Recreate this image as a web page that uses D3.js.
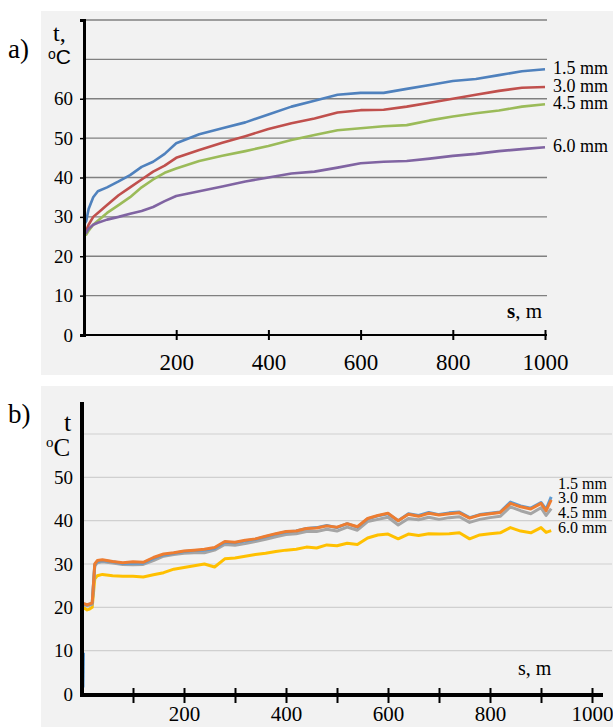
<!DOCTYPE html>
<html>
<head>
<meta charset="utf-8">
<script src="https://cdn.jsdelivr.net/npm/d3@7"></script>
<style>
  body { margin: 0; background: #fff; }
  svg { display: block; }
  .serif { font-family: "Liberation Serif", "Times New Roman", serif; fill: #000; }
</style>
</head>
<body>
<svg id="chart"></svg>
<script>
// panel a) – distance s (m) and temperature t (°C)
const sA = [0, 5, 10, 20, 30, 50, 75, 100, 125, 150, 175, 200, 250, 300, 350, 400, 450, 500, 550, 600, 650, 700, 750, 800, 850, 900, 950, 1000];
const a15 = [28, 29, 32, 35, 36.5, 37.5, 39, 40.6, 42.7, 44, 46, 48.7, 51, 52.5, 54, 56, 58, 59.5, 61, 61.5, 61.5, 62.5, 63.5, 64.5, 65, 66, 67, 67.5];
const a30 = [25.5, 26.5, 28, 30, 31, 33, 35.5, 37.5, 39.5, 41.5, 43, 45, 47, 48.8, 50.5, 52.3, 53.8, 55, 56.5, 57.1, 57.2, 58, 59, 60, 61, 62, 62.8, 63];
const a45 = [25.5, 25.5, 26.5, 28, 29, 31, 33, 35, 37.5, 39.5, 41.2, 42.3, 44.2, 45.5, 46.7, 48, 49.5, 50.8, 52, 52.5, 53, 53.3, 54.5, 55.5, 56.3, 57, 58, 58.6];
const a60 = [25.5, 26, 27, 28, 28.5, 29.3, 30, 30.8, 31.5, 32.5, 34, 35.3, 36.5, 37.7, 39, 40, 41, 41.5, 42.5, 43.6, 44, 44.2, 44.8, 45.5, 46, 46.7, 47.2, 47.7];

// panel b)
const sB = [0, 5, 10, 15, 20, 25, 30, 40, 60, 80, 100, 120, 140, 160, 180, 200, 220, 240, 260, 280, 300, 320, 340, 360, 380, 400, 420, 440, 460, 480, 500, 520, 540, 560, 580, 600, 620, 640, 660, 680, 700, 720, 740, 760, 780, 800, 820, 840, 860, 880, 900, 910, 920];
const b15 = [20.7, 20.7, 20.6, 20.7, 21, 29.8, 30.6, 30.8, 30.5, 30.1, 30.2, 30.2, 31.3, 32.1, 32.5, 32.9, 33.1, 33.2, 33.6, 35, 34.9, 35.3, 35.7, 36.3, 36.9, 37.4, 37.6, 38.2, 38.4, 38.9, 38.4, 39.3, 38.5, 40.4, 41.1, 41.6, 40, 41.6, 41.2, 41.9, 41.4, 41.8, 42, 40.7, 41.4, 41.7, 42, 44.3, 43.4, 42.9, 44.2, 42.6, 45.5];
const b30 = [20.8, 20.8, 20.6, 20.8, 21, 30, 30.8, 31, 30.6, 30.3, 30.5, 30.4, 31.5, 32.3, 32.6, 33, 33.2, 33.4, 33.8, 35.2, 35, 35.5, 35.8, 36.4, 37, 37.5, 37.6, 38.2, 38.3, 38.8, 38.5, 39.3, 38.6, 40.5, 41.2, 41.7, 40, 41.5, 41, 41.7, 41.3, 41.6, 41.8, 40.6, 41.3, 41.6, 41.9, 44, 43.2, 42.7, 44, 42.3, 44.8];
const b45 = [20.5, 20.5, 20.4, 20.5, 20.7, 29.5, 30.3, 30.5, 30.2, 29.9, 29.8, 29.9, 30.8, 31.8, 32.2, 32.5, 32.6, 32.6, 33.2, 34.5, 34.3, 34.7, 35.2, 35.7, 36.3, 36.8, 37, 37.5, 37.5, 38, 37.6, 38.5, 37.8, 39.8, 40.3, 40.8, 39, 40.5, 40.2, 40.8, 40.3, 40.7, 40.9, 39.6, 40.3, 40.7, 41, 43.2, 42.3, 41.6, 43, 41.2, 42.8];
const b60 = [19.5, 19.8, 19.4, 19.6, 20, 26.5, 27.3, 27.6, 27.3, 27.2, 27.2, 27, 27.5, 28, 28.8, 29.2, 29.6, 30, 29.3, 31.2, 31.4, 31.8, 32.2, 32.5, 32.9, 33.2, 33.4, 33.9, 33.7, 34.4, 34.2, 34.8, 34.5, 36, 36.7, 36.9, 35.8, 36.9, 36.6, 37, 36.9, 37, 37.2, 35.8, 36.7, 37, 37.2, 38.4, 37.6, 37.2, 38.4, 37.3, 37.7];
// short blue stub at the very start of b)
const b15StartS = [2, 3];
const b15StartT = [1.5, 9.5];

const labels = ["1.5 mm", "3.0 mm", "4.5 mm", "6.0 mm"];
const yTicksA = [0, 10, 20, 30, 40, 50, 60];
const gridA = [10, 20, 30, 40, 50, 60, 70, 80];
const xTicksA = [200, 400, 600, 800, 1000];
const yTicksB = [0, 10, 20, 30, 40, 50];
const gridB = [10, 20, 30, 40, 50, 60];
const xTicksB = [100, 200, 300, 400, 500, 600, 700, 800, 900, 1000];
const xLabelsB = [200, 400, 600, 800, 1000];

const colorsA = ["#4f81bd", "#c0504d", "#9bbb59", "#8064a2"];
const colorsB = ["#5b9bd5", "#ed7d31", "#a5a5a5", "#ffc000"];

const svg = d3.select("#chart").attr("width", 613).attr("height", 727);

// ---------- panel a ----------
svg.append("rect").attr("x", 41).attr("y", 11).attr("width", 572).attr("height", 364).attr("fill", "#f2f2f2");

const xA = d3.scaleLinear().domain([0, 1000]).range([84, 545]);
const yA = d3.scaleLinear().domain([0, 80]).range([335, 20]);

const gA = svg.append("g");

gA.selectAll(".gridA")
  .data(gridA)
  .enter()
  .append("line")
  .attr("x1", xA(0))
  .attr("x2", xA(1000) + 2)
  .attr("y1", d => yA(d))
  .attr("y2", d => yA(d))
  .attr("stroke", "#808080")
  .attr("stroke-width", 1.3);

const lineA = d3.line().x(d => xA(d[0])).y(d => yA(d[1]));
const seriesA = [a15, a30, a45, a60];

seriesA.forEach((vals, i) => {
  gA.append("path")
    .datum(sA.map((s, j) => [s, vals[j]]))
    .attr("fill", "none")
    .attr("stroke", colorsA[i])
    .attr("stroke-width", 2.6)
    .attr("stroke-linejoin", "round")
    .attr("d", lineA);

  gA.append("text")
    .attr("class", "serif")
    .attr("x", xA(1000) + 8)
    .attr("y", yA(vals[vals.length - 1]) - 1)
    .attr("dominant-baseline", "central")
    .style("font-size", "18px")
    .text(labels[i]);
});

// axes a
const xAxisA = gA.append("g")
  .attr("transform", `translate(0, ${yA(0)})`)
  .call(d3.axisBottom(xA).tickValues(xTicksA).tickFormat(d3.format("d")).tickSizeOuter(0).tickPadding(12));
xAxisA.select(".domain").attr("stroke", "#000").attr("stroke-width", 2).attr("d", `M${xA(0)},0H${xA(1000) + 2}`);
xAxisA.selectAll(".tick line").attr("y1", -5).attr("y2", 5).attr("stroke", "#000").attr("stroke-width", 2);
xAxisA.selectAll(".tick text").attr("class", "serif").style("font-size", "23px").attr("dy", "0.75em");

const yAxisA = gA.append("g")
  .attr("transform", `translate(${xA(0)}, 0)`)
  .call(d3.axisLeft(yA).tickValues(yTicksA).tickSize(4).tickSizeOuter(4).tickPadding(7));
yAxisA.select(".domain").attr("stroke", "#000").attr("stroke-width", 3);
yAxisA.selectAll(".tick line").attr("stroke", "#000").attr("stroke-width", 1.5);
yAxisA.selectAll(".tick text").attr("class", "serif").style("font-size", "19px");

svg.append("text").attr("class", "serif").attr("x", 8).attr("y", 58).style("font-size", "27px").text("a)");
svg.append("text").attr("class", "serif").attr("x", 53).attr("y", 41).style("font-size", "24px").text("t,");
const degA = svg.append("text").attr("x", 48).attr("y", 64)
  .style("font-family", "'Liberation Sans', Arial, sans-serif").style("font-size", "21px");
degA.append("tspan").style("font-size", "14px").attr("dy", -5).text("o");
degA.append("tspan").attr("dy", 5).text("C");
const smA = svg.append("text").attr("class", "serif").attr("x", 507).attr("y", 318).style("font-size", "21px");
smA.append("tspan").style("font-weight", "bold").text("s");
smA.append("tspan").text(", m");

// ---------- panel b ----------
svg.append("rect").attr("x", 41).attr("y", 386).attr("width", 572).attr("height", 341).attr("fill", "#f2f2f2");

const xB = d3.scaleLinear().domain([0, 1000]).range([82, 592]);
const yB = d3.scaleLinear().domain([0, 60]).range([694, 434]);

const gB = svg.append("g");

gB.selectAll(".gridB")
  .data(gridB)
  .enter()
  .append("line")
  .attr("x1", xB(0))
  .attr("x2", 612)
  .attr("y1", d => yB(d))
  .attr("y2", d => yB(d))
  .attr("stroke", "#d0d0d0")
  .attr("stroke-width", 1.2);

const lineB = d3.line().x(d => xB(d[0])).y(d => yB(d[1]));
const seriesB = [b15, b30, b45, b60];
// draw order: yellow, gray, blue, orange on top
[3, 2, 0, 1].forEach(i => {
  gB.append("path")
    .datum(sB.map((s, j) => [s, seriesB[i][j]]))
    .attr("fill", "none")
    .attr("stroke", colorsB[i])
    .attr("stroke-width", 3)
    .attr("stroke-linejoin", "round")
    .attr("d", lineB);
});
gB.append("path")
  .datum(b15StartS.map((s, j) => [s, b15StartT[j]]))
  .attr("fill", "none")
  .attr("stroke", colorsB[0])
  .attr("stroke-width", 3)
  .attr("d", lineB);

gB.selectAll(".labB")
  .data(labels)
  .enter()
  .append("text")
  .attr("class", "serif")
  .attr("x", 558)
  .attr("y", (d, i) => 483 + i * 14.7)
  .attr("dominant-baseline", "central")
  .style("font-size", "16px")
  .text(d => d);

const xAxisB = gB.append("g")
  .attr("transform", `translate(0, ${yB(0) + 1})`)
  .call(d3.axisBottom(xB).tickValues(xTicksB).tickSizeOuter(0).tickPadding(5)
    .tickFormat(d => xLabelsB.includes(d) ? d : ""));
xAxisB.select(".domain").attr("stroke", "#000").attr("stroke-width", 4).attr("d", `M${xB(0) - 2},0H603`);
xAxisB.selectAll(".tick line").attr("y1", -7).attr("y2", 8).attr("stroke", "#000").attr("stroke-width", 2);
xAxisB.selectAll(".tick text").attr("class", "serif").style("font-size", "21px").attr("dy", "0.72em");

const yAxisB = gB.append("g")
  .attr("transform", `translate(${xB(0)}, 0)`)
  .call(d3.axisLeft(yB).tickValues(yTicksB).tickSize(0).tickSizeOuter(0).tickPadding(9));
yAxisB.select(".domain").attr("stroke", "#000").attr("stroke-width", 4).attr("d", `M0,${yB(0) + 3}V402`);
yAxisB.selectAll(".tick text").attr("class", "serif").style("font-size", "19px");

svg.append("text").attr("class", "serif").attr("x", 8).attr("y", 423).style("font-size", "27px").text("b)");
svg.append("text").attr("class", "serif").attr("x", 64).attr("y", 431).style("font-size", "26px").text("t");
const degB = svg.append("text").attr("class", "serif").attr("x", 46).attr("y", 456).style("font-size", "25px");
degB.append("tspan").style("font-size", "15px").attr("dy", -9).text("o");
degB.append("tspan").attr("dy", 9).text("C");
svg.append("text").attr("class", "serif").attr("x", 518).attr("y", 675).style("font-size", "20px").text("s, m");
</script>
</body>
</html>
